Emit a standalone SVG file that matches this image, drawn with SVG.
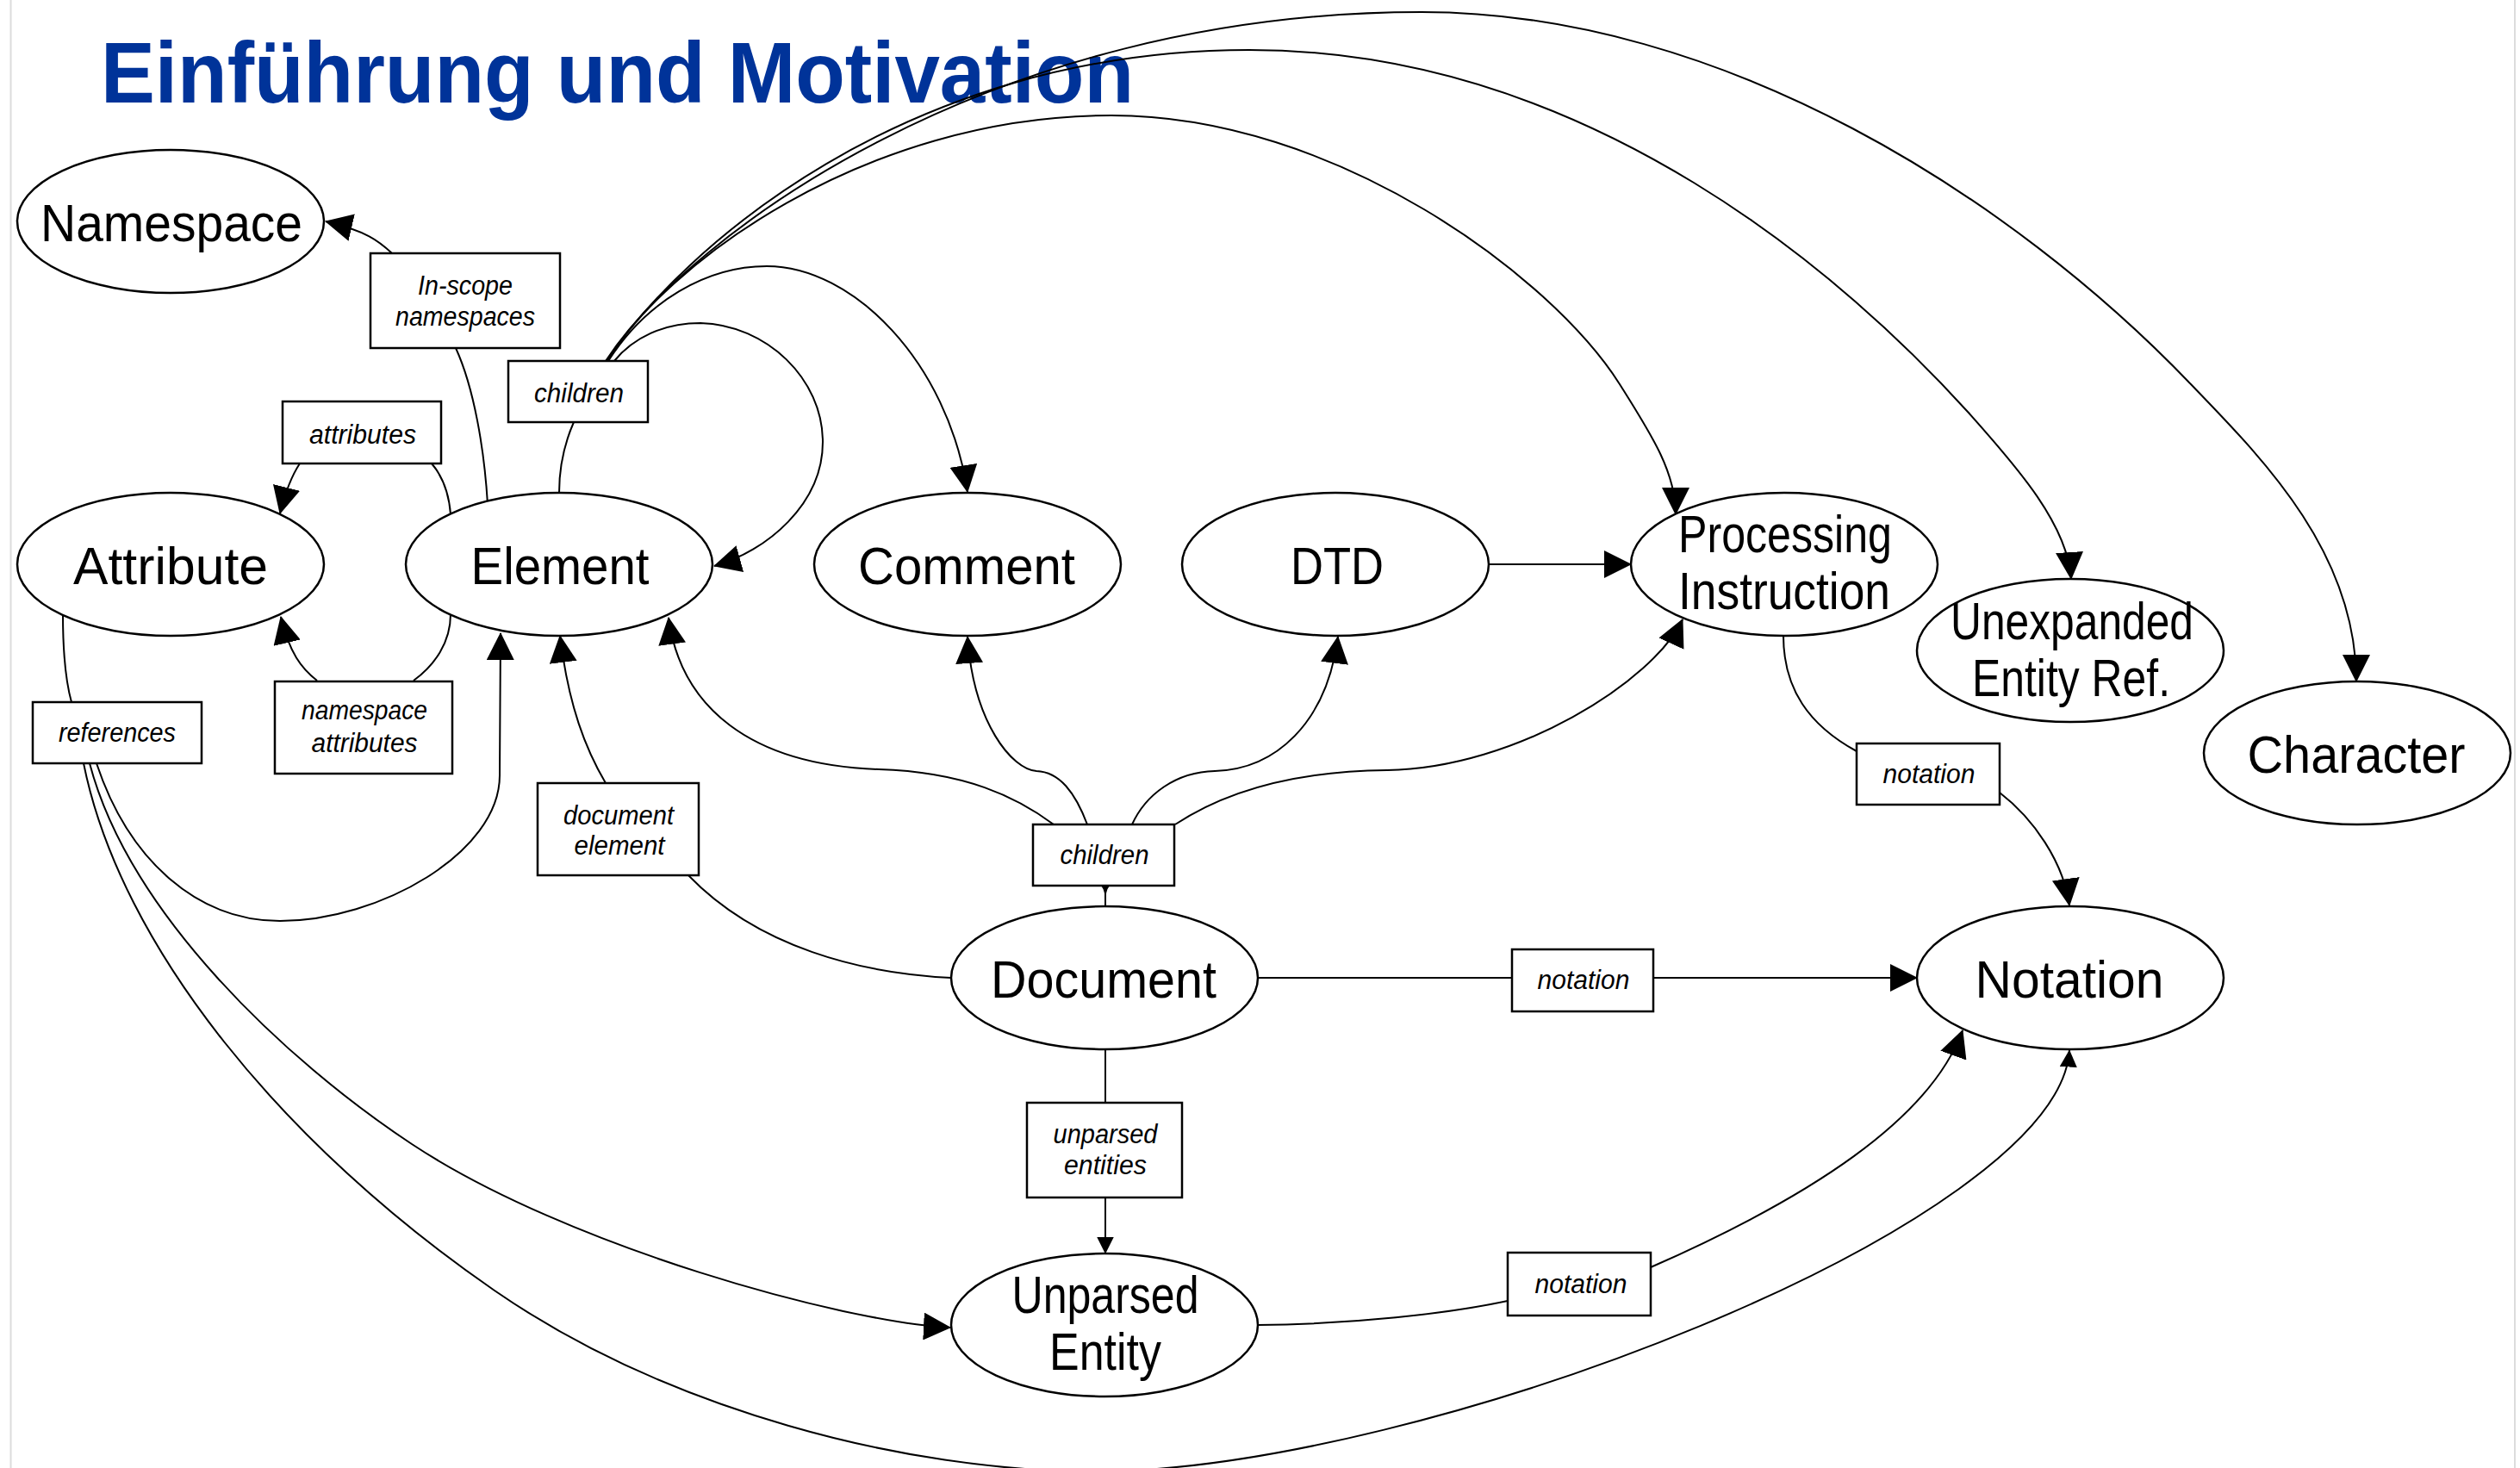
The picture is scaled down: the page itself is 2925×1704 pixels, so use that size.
<svg xmlns="http://www.w3.org/2000/svg" width="2925" height="1704" viewBox="0 0 2925 1704">
<defs>
<style>
.node ellipse{fill:#fff;stroke:#000;stroke-width:2.5}
.nt{font-family:"Liberation Sans",Arial,sans-serif;font-size:62px;text-anchor:middle;fill:#000}
.lbl rect{fill:#fff;stroke:#000;stroke-width:2.5}
.lt{font-family:"Liberation Sans",Arial,sans-serif;font-style:italic;font-size:31px;text-anchor:middle;fill:#000}
.c{fill:none;stroke:#000;stroke-width:2}
.a{marker-end:url(#arr)}
.s{marker-end:url(#arrs)}
</style>
<marker id="arr" viewBox="0 0 32 32" refX="31" refY="16" markerWidth="32" markerHeight="32" orient="auto" markerUnits="userSpaceOnUse"><path d="M0,0 L32,16 L0,32 Z" fill="#000"/></marker>
<marker id="arrs" viewBox="0 0 20 20" refX="19.5" refY="10" markerWidth="20" markerHeight="20" orient="auto" markerUnits="userSpaceOnUse"><path d="M0,0 L20,10 L0,20 Z" fill="#000"/></marker>
</defs>
<rect x="0" y="0" width="2925" height="1704" fill="#fff"/>
<line x1="12.5" y1="0" x2="12.5" y2="1704" stroke="#dcdcdc" stroke-width="2"/>
<line x1="2919" y1="0" x2="2919" y2="1704" stroke="#dcdcdc" stroke-width="2"/>
<text id="title" x="117" y="119" font-family="Liberation Sans,Arial,sans-serif" font-weight="bold" font-size="101" fill="#003399" textLength="1199" lengthAdjust="spacingAndGlyphs">Einführung und Motivation</text>

<g id="connectors">
<path class="c" d="M566 585 C562 520 550 450 529 404"/>
<path class="c a" d="M455 294 C440 280 425 268 378 257"/>
<path class="c" d="M523 597 C521 570 513 552 501 538"/>
<path class="c a" d="M348 538 C340 550 332 568 325 596"/>
<path class="c" d="M523 713 C523 745 505 772 480 790"/>
<path class="c a" d="M368 790 C350 776 336 758 326 716"/>
<path class="c" stroke-width="3.5" d="M73 713 C73 760 76 790 83 815"/>
<path class="c a" d="M112 886 C150 1000 230 1069 325 1069 C440 1069 580 990 580 900 L581 735"/>
<path class="c a" d="M104 886 C150 1060 330 1230 478 1328 C658 1447 980 1535 1103 1541"/>
<path class="c s" d="M97 886 C140 1100 330 1330 574 1498 C774 1636 1050 1708 1270 1708 C1650 1708 2390 1420 2402 1219"/>
<path class="c" stroke-width="2.5" d="M649 572 C649 540 655 515 666 490"/>
<path class="c a" d="M713 419 C735 392 770 375 813 375 C890 377 955 440 955 513 C955 585 890 640 829 657"/>
<path class="c a" d="M706 419 C750 350 820 309 890 309 C990 309 1100 420 1123 571"/>
<path class="c a" d="M705 419 C770 310 1000 134 1290 134 C1550 134 1800 320 1880 446 C1920 509 1945 550 1945 597"/>
<path class="c a" d="M704 419 C790 290 1050 58 1450 58 C1850 58 2150 330 2284 478 C2344 545 2400 610 2404 672"/>
<path class="c a" d="M703 419 C800 272 1150 14 1650 14 C2000 14 2336 230 2543 446 C2626 532 2735 641 2735 791"/>
<path class="c" d="M1283 1052 L1283 1028"/>
<path d="M1278 1028 Q1283 1034 1283 1048 Q1283 1034 1288 1028 Z" fill="#000"/>
<path class="c a" d="M1223 957 C1180 925 1120 896 1020 893 C870 888 790 820 776 717"/>
<path class="c a" d="M1262 957 C1248 920 1230 896 1203 895 C1175 893 1130 840 1123 739"/>
<path class="c a" d="M1314 957 C1330 922 1365 896 1410 895 C1480 893 1540 840 1553 739"/>
<path class="c a" d="M1364 957 C1420 920 1500 895 1610 894 C1760 892 1920 790 1953 719"/>
<path class="c" d="M1104 1135 C1000 1130 880 1100 799 1016"/>
<path class="c a" d="M703 909 C680 870 660 820 650 738"/>
<path class="c" d="M1460 1135 L1755 1135"/>
<path class="c a" d="M1919 1135 L2225 1135"/>
<path class="c" d="M1283 1217 L1283 1280"/>
<path class="c s" d="M1283 1390 L1283 1455"/>
<path class="c a" d="M1728 655 L1893 655"/>
<path class="c" d="M2070 738 C2070 800 2100 842 2155 872"/>
<path class="c a" d="M2321 920 C2360 950 2395 1000 2402 1051"/>
<path class="c" d="M1460 1538 C1570 1537 1680 1525 1750 1510"/>
<path class="c a" d="M1916 1471 C2100 1390 2240 1300 2278 1196"/>
</g>

<g id="edge-labels">
<g id="lbl-inscope" class="lbl"><rect x="430" y="294" width="220" height="110"/><text class="lt" x="540" y="342" textLength="110" lengthAdjust="spacingAndGlyphs">In-scope</text><text class="lt" x="540" y="378" textLength="162" lengthAdjust="spacingAndGlyphs">namespaces</text></g>
<g id="lbl-children-el" class="lbl"><rect x="590" y="419" width="162" height="71"/><text class="lt" x="672" y="467" textLength="104" lengthAdjust="spacingAndGlyphs">children</text></g>
<g id="lbl-attributes" class="lbl"><rect x="328" y="466" width="184" height="72"/><text class="lt" x="421" y="515" textLength="124" lengthAdjust="spacingAndGlyphs">attributes</text></g>
<g id="lbl-nsattributes" class="lbl"><rect x="319" y="791" width="206" height="107"/><text class="lt" x="423" y="835" textLength="146" lengthAdjust="spacingAndGlyphs">namespace</text><text class="lt" x="423" y="873" textLength="123" lengthAdjust="spacingAndGlyphs">attributes</text></g>
<g id="lbl-references" class="lbl"><rect x="38" y="815" width="196" height="71"/><text class="lt" x="136" y="861" textLength="136" lengthAdjust="spacingAndGlyphs">references</text></g>
<g id="lbl-docelement" class="lbl"><rect x="624" y="909" width="187" height="107"/><text class="lt" x="718" y="957" textLength="128" lengthAdjust="spacingAndGlyphs">document</text><text class="lt" x="719" y="992" textLength="105" lengthAdjust="spacingAndGlyphs">element</text></g>
<g id="lbl-children-doc" class="lbl"><rect x="1199" y="957" width="164" height="71"/><text class="lt" x="1282" y="1003" textLength="103" lengthAdjust="spacingAndGlyphs">children</text></g>
<g id="lbl-unparsed" class="lbl"><rect x="1192" y="1280" width="180" height="110"/><text class="lt" x="1283" y="1327" textLength="121" lengthAdjust="spacingAndGlyphs">unparsed</text><text class="lt" x="1283" y="1363" textLength="96" lengthAdjust="spacingAndGlyphs">entities</text></g>
<g id="lbl-notation-pi" class="lbl"><rect x="2155" y="863" width="166" height="71"/><text class="lt" x="2239" y="909" textLength="107" lengthAdjust="spacingAndGlyphs">notation</text></g>
<g id="lbl-notation-doc" class="lbl"><rect x="1755" y="1102" width="164" height="72"/><text class="lt" x="1838" y="1148" textLength="107" lengthAdjust="spacingAndGlyphs">notation</text></g>
<g id="lbl-notation-ue" class="lbl"><rect x="1750" y="1454" width="166" height="73"/><text class="lt" x="1835" y="1501" textLength="107" lengthAdjust="spacingAndGlyphs">notation</text></g>
</g>

<g id="node-namespace" class="node"><ellipse cx="198" cy="257" rx="178" ry="83"/><text class="nt" x="199" y="280" textLength="304" lengthAdjust="spacingAndGlyphs">Namespace</text></g>
<g id="node-attribute" class="node"><ellipse cx="198" cy="655" rx="178" ry="83"/><text class="nt" x="198" y="678" textLength="226" lengthAdjust="spacingAndGlyphs">Attribute</text></g>
<g id="node-element" class="node"><ellipse cx="649" cy="655" rx="178" ry="83"/><text class="nt" x="650" y="678" textLength="207" lengthAdjust="spacingAndGlyphs">Element</text></g>
<g id="node-comment" class="node"><ellipse cx="1123" cy="655" rx="178" ry="83"/><text class="nt" x="1122" y="678" textLength="252" lengthAdjust="spacingAndGlyphs">Comment</text></g>
<g id="node-dtd" class="node"><ellipse cx="1550" cy="655" rx="178" ry="83"/><text class="nt" x="1552" y="678" textLength="108" lengthAdjust="spacingAndGlyphs">DTD</text></g>
<g id="node-pi" class="node"><ellipse cx="2071" cy="655" rx="178" ry="83"/><text class="nt" x="2072" y="641" textLength="248" lengthAdjust="spacingAndGlyphs">Processing</text><text class="nt" x="2071" y="707" textLength="246" lengthAdjust="spacingAndGlyphs">Instruction</text></g>
<g id="node-unexpanded" class="node"><ellipse cx="2403" cy="755" rx="178" ry="83"/><text class="nt" x="2405" y="742" textLength="282" lengthAdjust="spacingAndGlyphs">Unexpanded</text><text class="nt" x="2404" y="808" textLength="230" lengthAdjust="spacingAndGlyphs">Entity Ref.</text></g>
<g id="node-character" class="node"><ellipse cx="2736" cy="874" rx="178" ry="83"/><text class="nt" x="2735" y="897" textLength="253" lengthAdjust="spacingAndGlyphs">Character</text></g>
<g id="node-document" class="node"><ellipse cx="1282" cy="1135" rx="178" ry="83"/><text class="nt" x="1281" y="1158" textLength="262" lengthAdjust="spacingAndGlyphs">Document</text></g>
<g id="node-notation" class="node"><ellipse cx="2403" cy="1135" rx="178" ry="83"/><text class="nt" x="2402" y="1158" textLength="219" lengthAdjust="spacingAndGlyphs">Notation</text></g>
<g id="node-unparsed-entity" class="node"><ellipse cx="1282" cy="1538" rx="178" ry="83"/><text class="nt" x="1283" y="1524" textLength="217" lengthAdjust="spacingAndGlyphs">Unparsed</text><text class="nt" x="1283" y="1590" textLength="130" lengthAdjust="spacingAndGlyphs">Entity</text></g>
</svg>
